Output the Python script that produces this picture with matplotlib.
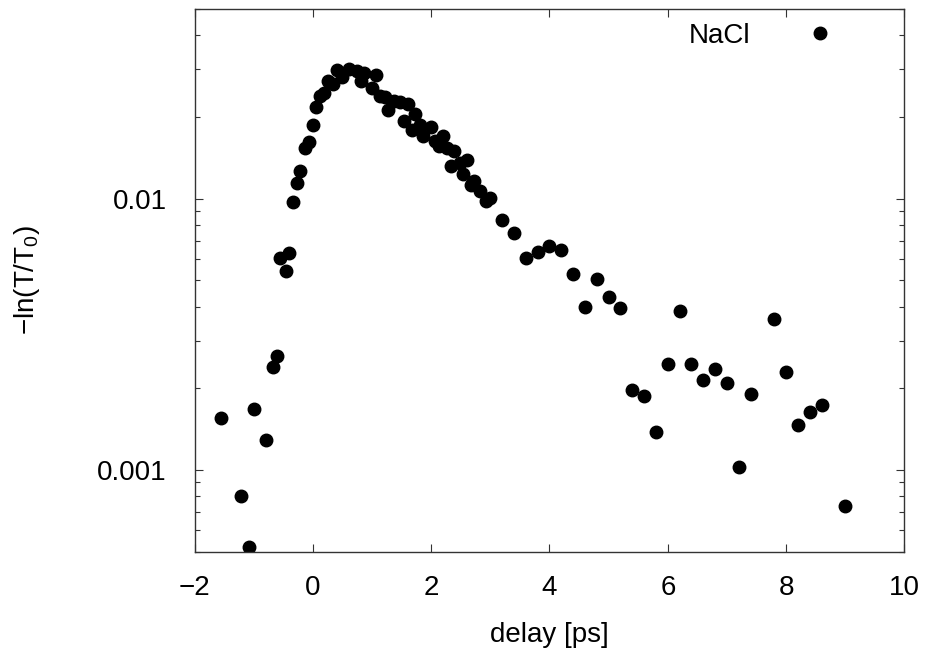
import matplotlib
matplotlib.use("Agg")
import matplotlib.pyplot as plt
from matplotlib.ticker import LogLocator, NullFormatter, FixedLocator

# pump-probe absorbance of NaCl vs delay
delay = [-1.55, -1.22, -1.08, -1.00, -0.80, -0.68, -0.60, -0.55, -0.46, -0.40,
         -0.33, -0.26, -0.21, -0.14, -0.06, 0.00, 0.06, 0.12, 0.19, 0.25,
         0.34, 0.40, 0.50, 0.61, 0.75, 0.81, 0.87, 1.00, 1.07, 1.14,
         1.22, 1.27, 1.37, 1.47, 1.54, 1.60, 1.67, 1.73, 1.81, 1.87,
         1.99, 2.07, 2.13, 2.20, 2.26, 2.33, 2.39, 2.49, 2.53, 2.60,
         2.68, 2.73, 2.83, 2.93, 3.00, 3.20, 3.40, 3.60, 3.80, 4.00,
         4.20, 4.40, 4.60, 4.80, 5.00, 5.20, 5.40, 5.60, 5.80, 6.00,
         6.20, 6.40, 6.60, 6.80, 7.00, 7.20, 7.40, 7.80, 8.00, 8.20,
         8.40, 8.60, 9.00]
signal = [0.00155, 0.000802, 0.000521, 0.00168, 0.00129, 0.00240, 0.00264, 0.00602, 0.00540, 0.00631,
          0.00975, 0.01143, 0.01265, 0.01542, 0.01623, 0.01872, 0.02183, 0.02393, 0.02455, 0.02723,
          0.02643, 0.02972, 0.02810, 0.03013, 0.02951, 0.02716, 0.02912, 0.02553, 0.02856, 0.02393,
          0.02365, 0.02130, 0.02286, 0.02275, 0.01928, 0.02229, 0.01798, 0.02047, 0.01862, 0.01707,
          0.01845, 0.01637, 0.01560, 0.01698, 0.01538, 0.01324, 0.01495, 0.01355, 0.01236, 0.01393,
          0.01120, 0.01158, 0.01064, 0.00977, 0.01006, 0.00832, 0.00747, 0.00604, 0.00634, 0.00667,
          0.00649, 0.00527, 0.00398, 0.00507, 0.00434, 0.00395, 0.00197, 0.00188, 0.00138, 0.00245,
          0.00384, 0.00245, 0.00215, 0.00236, 0.00210, 0.00103, 0.00190, 0.00360, 0.00229, 0.00146,
          0.00164, 0.00174, 0.000738]

xticks = [-2, 0, 2, 4, 6, 8, 10]

plt.rcParams['font.family'] = ['Liberation Sans', 'DejaVu Sans']
plt.rcParams['mathtext.fontset'] = 'custom'
plt.rcParams['mathtext.rm'] = 'Liberation Sans'
plt.rcParams['mathtext.it'] = 'Liberation Sans'
plt.rcParams['mathtext.default'] = 'regular'
plt.rcParams['font.size'] = 20

fig = plt.figure(figsize=(9.25, 6.49), dpi=100)
ax = fig.add_axes([0.2103, 0.150, 0.7675, 0.836])

ax.plot(delay, signal, 'o', color='black', markersize=9, label='NaCl')

ax.set_yscale('log')
ax.set_xlim(-2, 10)
ax.set_ylim(5e-4, 5e-2)

ax.xaxis.set_major_locator(FixedLocator(xticks))
ax.set_yticks([0.001, 0.01])
ax.set_yticklabels(['0.001', '0.01'])
ax.yaxis.set_minor_locator(LogLocator(base=10, subs=range(2, 10)))
ax.yaxis.set_minor_formatter(NullFormatter())
ax.set_xticklabels(['\u22122', '0', '2', '4', '6', '8', '10'])

ax.tick_params(which='both', direction='in', top=True, right=True, color='#333333')
ax.tick_params(which='major', length=6, width=0.8)
ax.tick_params(which='minor', length=3.5, width=0.8)
ax.tick_params(axis='x', pad=17)
ax.tick_params(axis='y', pad=20)
for s in ax.spines.values():
    s.set_color('#333333')
    s.set_linewidth(1.0)

ax.set_xlabel('delay [ps]', labelpad=15)
ax.set_ylabel('\u2212ln(T/T$_0$)', labelpad=40)

ax.legend(loc='upper right', frameon=False, markerfirst=False, numpoints=1,
          handlelength=3.0, handletextpad=1.0, borderpad=0, borderaxespad=0,
          bbox_to_anchor=(0.94, 0.975))

fig.savefig('out.png', dpi=100)
